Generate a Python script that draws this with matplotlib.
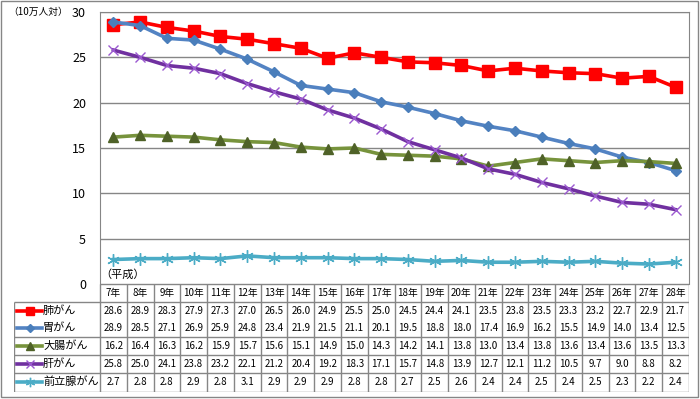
import numpy as np
import matplotlib.pyplot as plt
from matplotlib.patches import Rectangle

plt.rcParams['font.family'] = ['Noto Sans CJK JP', 'DejaVu Sans']

years = ['7年', '8年', '9年', '10年', '11年', '12年', '13年', '14年', '15年', '16年', '17年',
         '18年', '19年', '20年', '21年', '22年', '23年', '24年', '25年', '26年', '27年', '28年']
lung = [28.6, 28.9, 28.3, 27.9, 27.3, 27.0, 26.5, 26.0, 24.9, 25.5, 25.0,
        24.5, 24.4, 24.1, 23.5, 23.8, 23.5, 23.3, 23.2, 22.7, 22.9, 21.7]
stomach = [28.9, 28.5, 27.1, 26.9, 25.9, 24.8, 23.4, 21.9, 21.5, 21.1, 20.1,
           19.5, 18.8, 18.0, 17.4, 16.9, 16.2, 15.5, 14.9, 14.0, 13.4, 12.5]
colon = [16.2, 16.4, 16.3, 16.2, 15.9, 15.7, 15.6, 15.1, 14.9, 15.0, 14.3,
         14.2, 14.1, 13.8, 13.0, 13.4, 13.8, 13.6, 13.4, 13.6, 13.5, 13.3]
liver = [25.8, 25.0, 24.1, 23.8, 23.2, 22.1, 21.2, 20.4, 19.2, 18.3, 17.1,
         15.7, 14.8, 13.9, 12.7, 12.1, 11.2, 10.5, 9.7, 9.0, 8.8, 8.2]
prostate = [2.7, 2.8, 2.8, 2.9, 2.8, 3.1, 2.9, 2.9, 2.9, 2.8, 2.8,
            2.7, 2.5, 2.6, 2.4, 2.4, 2.5, 2.4, 2.5, 2.3, 2.2, 2.4]
names = ['肺がん', '胃がん', '大腸がん', '肝がん', '前立腺がん']
series = [lung, stomach, colon, liver, prostate]

# line colour, marker, marker colour, marker size
styles = [
    ('#FF0000', 's', '#FF0000', 8),
    ('#5383C3', 'D', '#4A7EBB', 5),
    ('#77933C', '^', '#4F6228', 7),
    ('#7030A0', 'x', '#9B59D0', 7),
    ('#4BACC6', (6, 2, 0), '#4BACC6', 9),
]

W, H = 700, 399
fig = plt.figure(figsize=(7, 3.99), dpi=100)

def fx(px):
    return px / W

def fy(py):
    return 1 - py / H

left, right, top, bottom = 100, 689, 12, 284
ax = fig.add_axes([fx(left), fy(bottom), fx(right - left), fy(top) - fy(bottom)])
x = np.arange(len(years))
for vals, (lc, mk, mc, ms) in zip(series, styles):
    ax.plot(x, vals, color=lc, lw=2.6, marker=mk, markersize=ms,
            markerfacecolor=mc, markeredgecolor=mc, markeredgewidth=1.0)

ax.set_xlim(-0.5, len(years) - 0.5)
ax.set_ylim(0, 30)
ax.set_yticks(range(0, 31, 5))
ax.set_xticks([])
ax.grid(axis='y', color='#868686', lw=1)
for s in ax.spines.values():
    s.set_color('#868686')
ax.spines['bottom'].set_visible(False)
ax.tick_params(axis='y', length=0, pad=10, labelsize=9)
ax.text(0.0, 0.035, '（平成）', fontsize=8, ha='left', va='center',
        transform=ax.transAxes)
fig.text(fx(8), fy(12), '（10万人対）', fontsize=7, ha='left', va='center')

# data table under the plot
col_w = (right - left) / len(years)
lab_left = 14
tab = fig.add_axes([fx(lab_left), fy(392), fx(right - lab_left), fy(284) - fy(392)])
x0 = -0.5 - (left - lab_left) / col_w
tab.set_xlim(x0, len(years) - 0.5)
tab.set_ylim(392, 284)
tab.axis('off')
gc = '#868686'
tab.hlines(284, -0.5, len(years) - 0.5, color=gc, lw=1)
for yy in [302, 337, 355, 373, 392]:
    tab.hlines(yy, x0, len(years) - 0.5, color=gc, lw=1)
for i in range(len(years) + 1):
    tab.vlines(i - 0.5, 284, 392, color=gc, lw=1)
tab.vlines(x0, 302, 392, color=gc, lw=1)

for i, yr in enumerate(years):
    tab.text(i, 293, yr, fontsize=7, ha='center', va='center')
row_y = [311, 328, 346, 364, 382]
for r, (nm, vals, (lc, mk, mc, ms)) in enumerate(zip(names, series, styles)):
    yy = row_y[r]
    sx = x0 + 3 / col_w
    ex = x0 + 28 / col_w
    tab.plot([sx, ex], [yy, yy], color=lc, lw=2.6)
    tab.plot([(sx + ex) / 2], [yy], marker=mk, color=mc, markersize=ms * 0.75,
             markeredgewidth=1.0)
    tab.text(x0 + 29 / col_w, yy, nm, fontsize=8, ha='left', va='center')
    for i, v in enumerate(vals):
        tab.text(i, yy, f'{v:.1f}', fontsize=7, ha='center', va='center')

fig.patches.append(Rectangle((fx(1), fy(397)), fx(697), fy(1) - fy(397),
                             transform=fig.transFigure, fill=False,
                             edgecolor='#868686', lw=1))

fig.savefig('out.png', dpi=100)
